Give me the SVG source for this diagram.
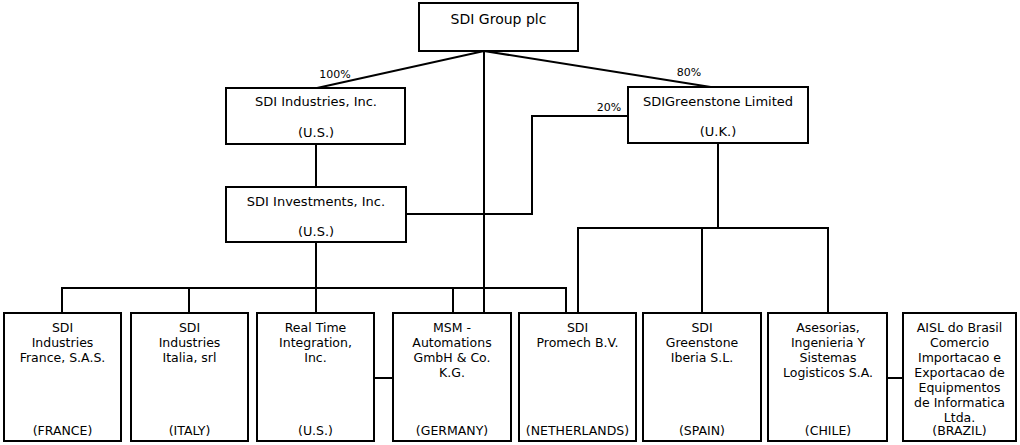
<svg xmlns="http://www.w3.org/2000/svg" width="1020" height="445" viewBox="0 0 1020 445">
<style>
.box{fill:#fff;stroke:#000;stroke-width:2}
.ln{fill:none;stroke:#000;stroke-width:2}
text{font-family:"DejaVu Sans",Verdana,sans-serif;fill:#000;text-anchor:middle}
.t14{font-size:14px}
.t13{font-size:13px}
.t12{font-size:12.5px}
.pct{font-size:11px}
</style>
<rect width="1020" height="445" fill="#fff"/>
<g id="connectors">
<polyline class="ln" points="317,88 484,51 717,88"/>
<line class="ln" x1="484" y1="51" x2="484" y2="313"/>
<line class="ln" x1="316" y1="144" x2="316" y2="187"/>
<polyline class="ln" points="628,116 532,116 532,214 406,214"/>
<line class="ln" x1="316" y1="242" x2="316" y2="313"/>
<line class="ln" x1="61" y1="288" x2="567" y2="288"/>
<line class="ln" x1="62" y1="288" x2="62" y2="313"/>
<line class="ln" x1="189" y1="288" x2="189" y2="313"/>
<line class="ln" x1="453" y1="288" x2="453" y2="313"/>
<line class="ln" x1="566" y1="288" x2="566" y2="313"/>
<line class="ln" x1="718" y1="143" x2="718" y2="228"/>
<line class="ln" x1="577" y1="228" x2="829" y2="228"/>
<line class="ln" x1="578" y1="228" x2="578" y2="313"/>
<line class="ln" x1="702" y1="228" x2="702" y2="313"/>
<line class="ln" x1="828" y1="228" x2="828" y2="313"/>
<line class="ln" x1="374" y1="378" x2="393" y2="378"/>
<line class="ln" x1="887" y1="378" x2="903" y2="378"/>
<text class="pct" x="335" y="78">100%</text>
<text class="pct" x="689" y="76">80%</text>
<text class="pct" x="609" y="111">20%</text>
</g>
<g id="sdi-group">
<rect class="box" x="419" y="3" width="159" height="48"/>
<text class="t14" x="498.5" y="24">SDI Group plc</text>
</g>
<g id="sdi-industries">
<rect class="box" x="226" y="88" width="179" height="56"/>
<text class="t13" x="316" y="106">SDI Industries, Inc.</text>
<text class="t13" x="316" y="137">(U.S.)</text>
</g>
<g id="sdi-greenstone">
<rect class="box" x="628" y="87" width="180" height="56"/>
<text class="t13" x="718" y="106">SDIGreenstone Limited</text>
<text class="t13" x="718" y="136">(U.K.)</text>
</g>
<g id="sdi-investments">
<rect class="box" x="226" y="187" width="180" height="55"/>
<text class="t13" x="316" y="206">SDI Investments, Inc.</text>
<text class="t13" x="316" y="236">(U.S.)</text>
</g>
<g id="france">
<rect class="box" x="4" y="313" width="117" height="128"/>
<text class="t12" x="62.5" y="332">SDI</text>
<text class="t12" x="62.5" y="347">Industries</text>
<text class="t12" x="62.5" y="362">France, S.A.S.</text>
<text class="t12" x="62.5" y="435">(FRANCE)</text>
</g>
<g id="italia">
<rect class="box" x="131" y="313" width="117" height="128"/>
<text class="t12" x="189.5" y="332">SDI</text>
<text class="t12" x="189.5" y="347">Industries</text>
<text class="t12" x="189.5" y="362">Italia, srl</text>
<text class="t12" x="189.5" y="435">(ITALY)</text>
</g>
<g id="realtime">
<rect class="box" x="257" y="313" width="117" height="128"/>
<text class="t12" x="315.5" y="332">Real Time</text>
<text class="t12" x="315.5" y="347">Integration,</text>
<text class="t12" x="315.5" y="362">Inc.</text>
<text class="t12" x="315.5" y="435">(U.S.)</text>
</g>
<g id="msm">
<rect class="box" x="393" y="313" width="118" height="128"/>
<text class="t12" x="452" y="332">MSM -</text>
<text class="t12" x="452" y="347">Automations</text>
<text class="t12" x="452" y="362">GmbH &amp; Co.</text>
<text class="t12" x="452" y="377">K.G.</text>
<text class="t12" x="452" y="435">(GERMANY)</text>
</g>
<g id="promech">
<rect class="box" x="519" y="313" width="117" height="128"/>
<text class="t12" x="577.5" y="332">SDI</text>
<text class="t12" x="577.5" y="347">Promech B.V.</text>
<text class="t12" x="577.5" y="435">(NETHERLANDS)</text>
</g>
<g id="iberia">
<rect class="box" x="643" y="313" width="118" height="128"/>
<text class="t12" x="702" y="332">SDI</text>
<text class="t12" x="702" y="347">Greenstone</text>
<text class="t12" x="702" y="362">Iberia S.L.</text>
<text class="t12" x="702" y="435">(SPAIN)</text>
</g>
<g id="chile">
<rect class="box" x="768" y="313" width="119" height="128"/>
<text class="t12" x="828" y="332">Asesorias,</text>
<text class="t12" x="828" y="347">Ingenieria Y</text>
<text class="t12" x="828" y="362">Sistemas</text>
<text class="t12" x="828" y="377">Logisticos S.A.</text>
<text class="t12" x="828" y="435">(CHILE)</text>
</g>
<g id="brazil">
<rect class="box" x="903" y="313" width="113" height="128"/>
<text class="t12" x="959.5" y="332">AISL do Brasil</text>
<text class="t12" x="959.5" y="347">Comercio</text>
<text class="t12" x="959.5" y="362">Importacao e</text>
<text class="t12" x="959.5" y="377">Exportacao de</text>
<text class="t12" x="959.5" y="392">Equipmentos</text>
<text class="t12" x="959.5" y="407">de Informatica</text>
<text class="t12" x="959.5" y="422">Ltda.</text>
<text class="t12" x="959.5" y="435">(BRAZIL)</text>
</g>
</svg>
